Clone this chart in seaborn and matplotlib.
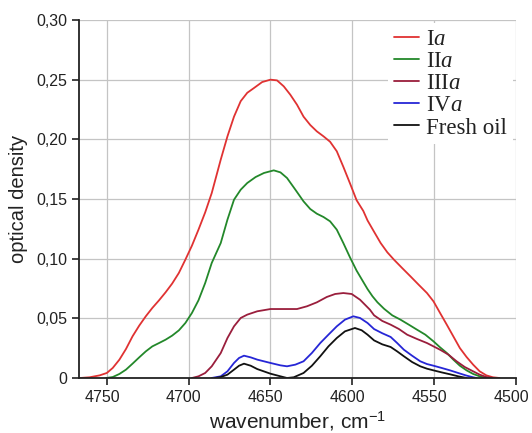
import numpy as np
import pandas as pd
import matplotlib
matplotlib.use("Agg")
import matplotlib.pyplot as plt
import matplotlib.transforms as mtransforms
import seaborn as sns
from matplotlib.ticker import FixedLocator, FixedFormatter

# ---- data ----
series_names = ["I$a$", "II$a$", "III$a$", "IV$a$", "Fresh oil"]

x_Ia = [4766.5, 4760.5, 4754.4, 4750.0, 4746.4, 4742.3, 4738.3, 4734.3, 4730.2, 4726.2, 4722.2,
        4718.1, 4714.1, 4710.1, 4706.0, 4702.0, 4698.0, 4694.0, 4689.9, 4685.9,
        4680.4, 4676.3, 4672.3, 4668.2, 4664.2, 4660.1, 4655.1, 4650.0, 4646.0, 4641.9, 4637.9,
        4633.8, 4629.8, 4625.7, 4621.7, 4617.6, 4613.6, 4609.5, 4605.5, 4601.4, 4597.4, 4593.3,
        4590.7, 4586.7, 4582.7, 4578.6, 4574.6, 4569.6, 4564.5, 4559.5, 4554.4, 4550.4, 4546.4,
        4542.3, 4538.3, 4534.3, 4530.2, 4526.2, 4522.2, 4518.1, 4514.1, 4510.1]
y_Ia = [0.0, 0.0006, 0.0022, 0.0042, 0.0084, 0.0154, 0.0243, 0.0349, 0.0439, 0.0517, 0.0587,
        0.0651, 0.0718, 0.0791, 0.088, 0.0992, 0.1109, 0.1243, 0.1388, 0.155,
        0.183, 0.2025, 0.219, 0.232, 0.239, 0.243, 0.248, 0.250, 0.2494, 0.2444, 0.2374,
        0.229, 0.219, 0.212, 0.2067, 0.2025, 0.198, 0.190, 0.177, 0.163, 0.149, 0.140,
        0.132, 0.1225, 0.1131, 0.1053, 0.0992, 0.0922, 0.0852, 0.0782, 0.0712, 0.0642, 0.0545,
        0.0447, 0.0349, 0.0251, 0.0176, 0.0112, 0.0056, 0.0022, 0.0006, 0.0]

x_IIa = [4750.4, 4746.4, 4742.3, 4738.3, 4734.3, 4730.2, 4726.2, 4722.2, 4718.1, 4714.1, 4710.1,
         4706.0, 4702.0, 4698.0, 4694.0, 4689.9, 4685.9,
         4680.4, 4676.3, 4672.3, 4668.2, 4664.2, 4659.1, 4654.0, 4648.0, 4643.9, 4639.9, 4634.8,
         4629.8, 4625.7, 4621.7, 4617.6, 4613.6, 4609.5, 4605.5, 4601.4, 4597.4, 4593.3,
         4590.7, 4587.7, 4584.7, 4580.6, 4575.6, 4570.6, 4565.5, 4560.5, 4555.4, 4550.4, 4546.4,
         4542.3, 4538.3, 4534.3, 4530.2, 4526.2, 4522.2, 4518.1]
y_IIa = [0.0, 0.0008, 0.0034, 0.007, 0.012, 0.0173, 0.0223, 0.0265, 0.0293, 0.0321, 0.0355,
         0.0399, 0.0461, 0.0545, 0.0651, 0.0796, 0.0964,
         0.1131, 0.1327, 0.1494, 0.1578, 0.1634, 0.1684, 0.1718, 0.174, 0.1723, 0.1676, 0.1578,
         0.148, 0.1416, 0.1377, 0.1349, 0.1313, 0.1243, 0.1131, 0.1010, 0.090, 0.0805,
         0.0745, 0.0685, 0.0635, 0.0580, 0.0525, 0.0489, 0.0447, 0.0405, 0.0363, 0.0307, 0.0257,
         0.021, 0.0154, 0.0103, 0.0064, 0.0034, 0.0014, 0.0]

x_IIIa = [4698.0, 4694.0, 4689.9, 4685.9, 4680.4, 4676.3, 4672.3, 4668.2, 4664.2, 4658.1,
          4650.0, 4641.9, 4633.8, 4627.7, 4621.7, 4615.6, 4610.5, 4605.5, 4600.4, 4595.3,
          4589.3, 4586.7, 4581.7, 4576.6, 4571.6, 4566.5, 4560.5, 4554.4, 4550.4, 4546.4,
          4541.3, 4536.3, 4531.3, 4526.2, 4522.2, 4518.1, 4514.1]
y_IIIa = [0.0, 0.0014, 0.0042, 0.0098, 0.0209, 0.0335, 0.0433, 0.0503, 0.0531, 0.0559,
          0.0578, 0.0578, 0.0578, 0.0601, 0.0634, 0.0679, 0.0704, 0.0712, 0.0704, 0.0656,
          0.0573, 0.0525, 0.0478, 0.0447, 0.0411, 0.0363, 0.0327, 0.0293, 0.0265, 0.0237,
          0.0196, 0.014, 0.0092, 0.0056, 0.0028, 0.0008, 0.0]

x_IVa = [4686.0, 4680.4, 4676.3, 4672.3, 4669.2, 4666.2, 4662.1, 4658.1, 4650.0, 4643.9,
         4639.9, 4634.8, 4629.8, 4624.7, 4619.6, 4614.6, 4609.5, 4604.5, 4599.4, 4595.3,
         4590.7, 4586.7, 4581.7, 4576.6, 4572.6, 4568.5, 4563.5, 4558.5, 4554.4, 4550.4,
         4545.4, 4540.3, 4535.3, 4530.2, 4526.2, 4524.2]
y_IVa = [0.0, 0.0014, 0.0056, 0.0126, 0.0168, 0.0187, 0.0173, 0.0154, 0.0126, 0.0106,
         0.0098, 0.0112, 0.014, 0.021, 0.0293, 0.0363, 0.0433, 0.0489, 0.0517, 0.0503,
         0.0461, 0.0410, 0.0375, 0.0344, 0.0293, 0.0237, 0.0187, 0.014, 0.0117, 0.0103,
         0.0084, 0.0064, 0.0042, 0.002, 0.0006, 0.0]

x_fresh = [4684.0, 4680.4, 4676.3, 4672.3, 4669.2, 4666.2, 4662.1, 4658.1, 4650.0, 4643.9,
           4639.9, 4635.8, 4629.8, 4624.7, 4619.6, 4614.6, 4609.5, 4604.5, 4598.4, 4594.3,
           4590.7, 4586.7, 4581.7, 4576.6, 4572.6, 4568.5, 4563.5, 4558.5, 4554.4, 4550.4,
           4545.4, 4540.3, 4535.3, 4530.2]
y_fresh = [0.0, 0.0008, 0.0028, 0.007, 0.0103, 0.012, 0.0103, 0.0075, 0.0036, 0.0014,
           0.0, 0.0006, 0.0042, 0.0103, 0.0182, 0.0265, 0.0335, 0.0391, 0.0419, 0.040,
           0.0363, 0.0315, 0.0282, 0.026, 0.0223, 0.0182, 0.0134, 0.0098, 0.0078, 0.0064,
           0.0047, 0.0031, 0.0014, 0.0]

x_ticks = [4750, 4700, 4650, 4600, 4550, 4500]
y_ticks = [0.0, 0.05, 0.10, 0.15, 0.20, 0.25, 0.30]
y_tick_labels = ["0", "0,05", "0,10", "0,15", "0,20", "0,25", "0,30"]

colors = ["#e03232", "#23882a", "#9a1e3c", "#2626d6", "#111111"]

# ---- build long table ----
frames = []
for name, xs, ys in zip(series_names,
                        [x_Ia, x_IIa, x_IIIa, x_IVa, x_fresh],
                        [y_Ia, y_IIa, y_IIIa, y_IVa, y_fresh]):
    frames.append(pd.DataFrame({"wavenumber": xs, "od": ys, "series": name}))
df = pd.concat(frames, ignore_index=True)

sns.set_style("whitegrid")
plt.rcParams["font.family"] = ["Liberation Sans", "DejaVu Sans"]
plt.rcParams["mathtext.fontset"] = "custom"
plt.rcParams["mathtext.rm"] = "Liberation Sans"
plt.rcParams["mathtext.it"] = "Liberation Serif:italic"

fig = plt.figure(figsize=(5.32, 4.33), dpi=100)
ax = fig.add_axes([79 / 532, 1 - 378 / 433, (516 - 79) / 532, (378 - 20) / 433])

sns.lineplot(data=df, x="wavenumber", y="od", hue="series", palette=colors,
             hue_order=series_names, estimator=None, sort=True, linewidth=1.3, ax=ax)
for ln in ax.get_lines():
    ln.set_solid_joinstyle("round")

ax.set_xlim(4767, 4500)
ax.set_ylim(0, 0.30)
ax.xaxis.set_major_locator(FixedLocator(x_ticks))
ax.yaxis.set_major_locator(FixedLocator(y_ticks))
ax.yaxis.set_major_formatter(FixedFormatter(y_tick_labels))

ax.grid(True, color="#c4c4c4", linewidth=0.9)
for s in ["top", "right"]:
    ax.spines[s].set_visible(False)
for s in ["left", "bottom"]:
    ax.spines[s].set_color("#222222")
    ax.spines[s].set_linewidth(1.3)

ax.tick_params(axis="both", which="major", direction="out", length=5, width=1.2,
               color="#222222", labelsize=11.5, labelcolor="#222222",
               bottom=True, left=True)
ax.tick_params(axis="x", pad=4)
ax.set_xlabel("wavenumber, cm$^{-1}$", fontsize=15, color="#222222", labelpad=3)
ax.set_ylabel("optical density", fontsize=14.5, color="#222222", labelpad=6)

# nudge x tick labels slightly left (as in the reference), keeps "4500" inside
shift = mtransforms.ScaledTranslation(-3.5 / 72, 0, fig.dpi_scale_trans)
for lbl in ax.get_xticklabels():
    lbl.set_transform(lbl.get_transform() + shift)

handles, labels = ax.get_legend_handles_labels()
leg = ax.legend(handles, labels, loc="upper right", bbox_to_anchor=(1.0, 1.0),
                frameon=True, facecolor="white", edgecolor="none", framealpha=1.0,
                prop={"family": "Liberation Serif", "size": 16.5},
                handlelength=1.1, handletextpad=0.3, labelspacing=0.045,
                borderaxespad=0.15, borderpad=0.25)
for t in leg.get_texts():
    t.set_color("#222222")

fig.savefig("out.png", dpi=100)
